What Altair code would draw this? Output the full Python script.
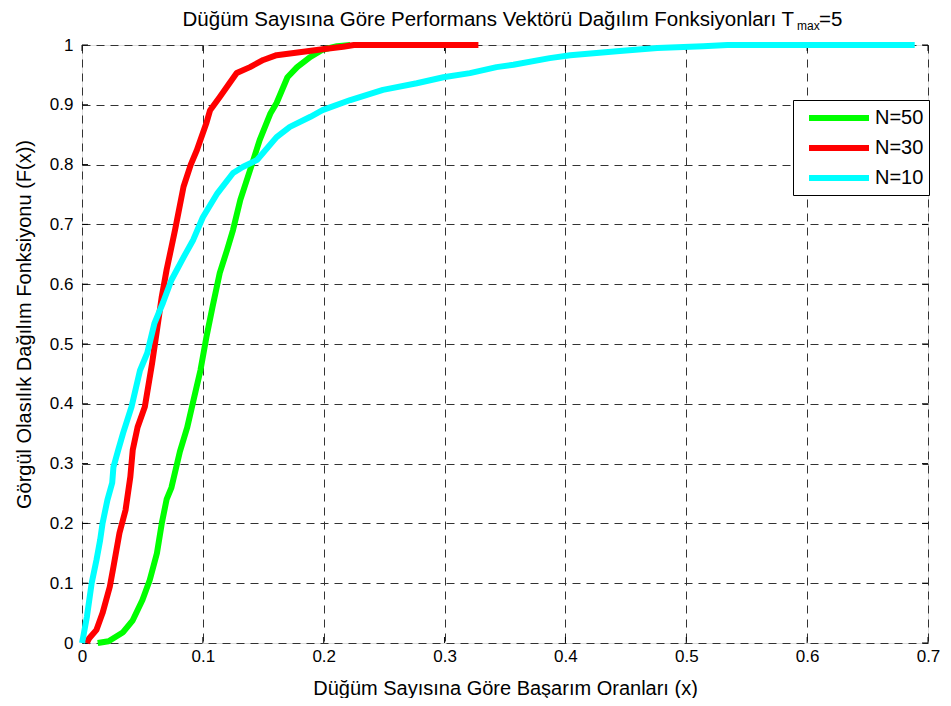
import altair as alt
import pandas as pd

# ---------------- data ----------------
series_names = ["N=50", "N=30", "N=10"]
series_colors = ["#00ff00", "#ff0000", "#00ffff"]

n50_x = [0.013, 0.022, 0.026, 0.034, 0.042, 0.050, 0.056, 0.062, 0.066, 0.070,
         0.074, 0.081, 0.087, 0.091, 0.098, 0.103, 0.108, 0.114, 0.120, 0.125,
         0.131, 0.141, 0.147, 0.156, 0.161, 0.170, 0.178, 0.189, 0.199, 0.211, 0.222]
n50_y = [0.000, 0.003, 0.008, 0.018, 0.038, 0.072, 0.105, 0.150, 0.200, 0.240,
         0.260, 0.320, 0.360, 0.395, 0.456, 0.512, 0.562, 0.619, 0.657, 0.691,
         0.741, 0.803, 0.841, 0.886, 0.903, 0.946, 0.963, 0.980, 0.992, 0.998, 1.000]

n30_x = [0.004, 0.006, 0.012, 0.017, 0.023, 0.026, 0.031, 0.036, 0.040, 0.042,
         0.046, 0.052, 0.058, 0.062, 0.066, 0.070, 0.074, 0.077, 0.084, 0.090,
         0.095, 0.103, 0.106, 0.114, 0.122, 0.128, 0.139, 0.150, 0.161, 0.180,
         0.199, 0.216, 0.225, 0.328]
n30_y = [0.000, 0.008, 0.022, 0.050, 0.094, 0.127, 0.184, 0.222, 0.278, 0.323,
         0.361, 0.395, 0.468, 0.523, 0.579, 0.624, 0.662, 0.691, 0.763, 0.800,
         0.824, 0.870, 0.891, 0.913, 0.936, 0.953, 0.963, 0.975, 0.983, 0.988,
         0.993, 0.997, 1.000, 1.000]

n10_x = [0.000, 0.001, 0.004, 0.008, 0.012, 0.015, 0.017, 0.021, 0.025, 0.026,
         0.030, 0.034, 0.041, 0.048, 0.054, 0.060, 0.067, 0.074, 0.084, 0.092,
         0.100, 0.112, 0.125, 0.133, 0.145, 0.161, 0.172, 0.189, 0.199, 0.222,
         0.249, 0.277, 0.299, 0.321, 0.343, 0.357, 0.387, 0.404, 0.445, 0.476,
         0.514, 0.534, 0.689]
n10_y = [0.000, 0.010, 0.043, 0.100, 0.139, 0.172, 0.200, 0.239, 0.268, 0.294,
         0.323, 0.351, 0.395, 0.456, 0.485, 0.535, 0.569, 0.607, 0.645, 0.674,
         0.712, 0.752, 0.786, 0.796, 0.808, 0.846, 0.863, 0.880, 0.891, 0.908,
         0.925, 0.936, 0.946, 0.953, 0.963, 0.967, 0.978, 0.983, 0.990, 0.995,
         0.998, 1.000, 1.000]

x_ticks = [0, 0.1, 0.2, 0.3, 0.4, 0.5, 0.6, 0.7]
y_ticks = [0, 0.1, 0.2, 0.3, 0.4, 0.5, 0.6, 0.7, 0.8, 0.9, 1]

title_main = "Düğüm Sayısına Göre Performans Vektörü Dağılım Fonksiyonları T"
title_sub = "max"
title_end = "=5"
x_title = "Düğüm Sayısına Göre Başarım Oranları (x)"
y_title = "Görgül Olasılık Dağılım Fonksiyonu (F(x))"

# ---------------- build ----------------
rows = []
for name, xs, ys in zip(series_names, [n50_x, n30_x, n10_x], [n50_y, n30_y, n10_y]):
    for i, (xv, yv) in enumerate(zip(xs, ys)):
        rows.append({"series": name, "x": xv, "y": yv, "i": i})
df = pd.DataFrame(rows)

W, H = 846, 598
FONT = "Liberation Sans"

xscale = alt.Scale(domain=[0, 0.7], nice=False, zero=False)
yscale = alt.Scale(domain=[0, 1], nice=False, zero=False)

xaxis = alt.Axis(values=x_ticks, format="~g", labelFlush=False, ticks=False, domain=False,
                 grid=True, gridDash=[8, 6], gridColor="#333333", gridWidth=1,
                 labelFont=FONT, labelFontSize=17, labelColor="black", labelPadding=5,
                 title=x_title, titleFont=FONT, titleFontSize=20, titleFontWeight="normal",
                 titleColor="black", titleY=51, titleBaseline="alphabetic")
yaxis = alt.Axis(values=y_ticks, format="~g", ticks=False, domain=False,
                 grid=True, gridDash=[8, 6], gridColor="#333333", gridWidth=1,
                 labelFont=FONT, labelFontSize=17, labelColor="black", labelPadding=9,
                 title=y_title, titleFont=FONT, titleFontSize=20, titleFontWeight="normal",
                 titleColor="black", titleAngle=270, titleX=-58, titleY=279,
                 titleBaseline="middle", titleAlign="center")

legend = alt.Legend(orient="none", legendX=711, legendY=55, title=None,
                    strokeColor="black", fillColor="white", padding=5, cornerRadius=0,
                    symbolType="M-3,0H3", symbolSize=400, symbolStrokeWidth=6,
                    symbolOffset=28, symbolFillColor="transparent",
                    labelFont=FONT, labelFontSize=20, labelColor="black", labelOffset=23,
                    rowPadding=5)
color = alt.Color("series:N", scale=alt.Scale(domain=series_names, range=series_colors),
                  legend=legend)

layers = []
for name in series_names:
    layers.append(
        alt.Chart(df).transform_filter(alt.datum.series == name)
        .mark_line(strokeWidth=6, strokeJoin="round")
        .encode(x=alt.X("x:Q", scale=xscale, axis=xaxis),
                y=alt.Y("y:Q", scale=yscale, axis=yaxis),
                color=color, order="i:Q")
    )

xt = pd.DataFrame({"x": x_ticks})
yt = pd.DataFrame({"y": y_ticks})
tick_bottom = alt.Chart(xt).mark_rule(color="black", strokeWidth=1).encode(
    x=alt.X("x:Q", scale=xscale, axis=xaxis), y=alt.value(H), y2=alt.value(H - 6))
tick_top = alt.Chart(xt).mark_rule(color="black", strokeWidth=1).encode(
    x=alt.X("x:Q", scale=xscale, axis=xaxis), y=alt.value(0), y2=alt.value(6))
tick_left = alt.Chart(yt).mark_rule(color="black", strokeWidth=1).encode(
    y=alt.Y("y:Q", scale=yscale, axis=yaxis), x=alt.value(0), x2=alt.value(6))
tick_right = alt.Chart(yt).mark_rule(color="black", strokeWidth=1).encode(
    y=alt.Y("y:Q", scale=yscale, axis=yaxis), x=alt.value(W - 6), x2=alt.value(W))

tdf = pd.DataFrame({"a": [title_main], "b": [title_sub], "c": [title_end]})
t1 = alt.Chart(tdf).mark_text(font=FONT, fontSize=20.5, align="right", baseline="alphabetic",
                              color="black").encode(text="a:N", x=alt.value(712), y=alt.value(-19))
t2 = alt.Chart(tdf).mark_text(font=FONT, fontSize=12, align="left", baseline="alphabetic",
                              color="black").encode(text="b:N", x=alt.value(715), y=alt.value(-15))
t3 = alt.Chart(tdf).mark_text(font=FONT, fontSize=20.5, align="left", baseline="alphabetic",
                              color="black").encode(text="c:N", x=alt.value(737), y=alt.value(-19))

chart = alt.layer(tick_bottom, tick_top, tick_left, tick_right, *layers, t1, t2, t3).properties(
    width=W, height=H,
    padding={"left": 74, "top": 37, "right": 13, "bottom": 55},
    autosize=alt.AutoSizeParams(type="none"),
).configure_view(stroke="black", strokeWidth=1).configure(font=FONT, background="white")

chart.save("out.html", embed_options={"renderer": "svg", "actions": False})
